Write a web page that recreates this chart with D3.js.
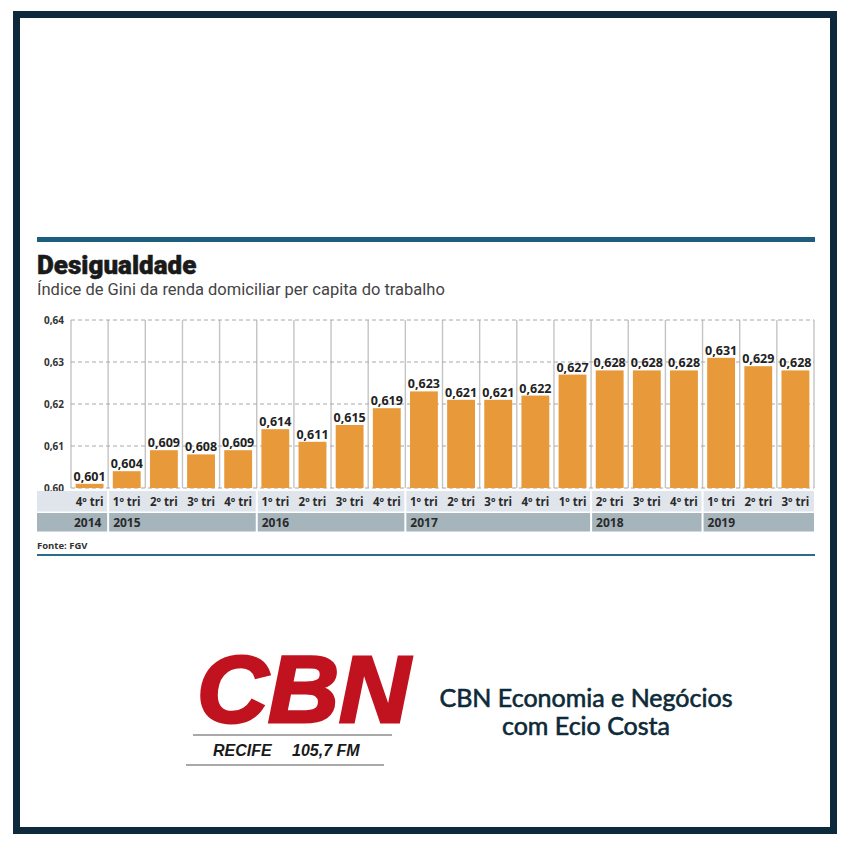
<!DOCTYPE html>
<html>
<head>
<meta charset="utf-8">
<script src="https://cdn.jsdelivr.net/npm/d3@7"></script>
<style>
html,body{margin:0;padding:0;background:#fff;}
svg{display:block;}
</style>
</head>
<body>
<svg id="c" width="850" height="850"></svg>
<script>
// ---- data ----
const quarters = ["4º tri","1º tri","2º tri","3º tri","4º tri","1º tri","2º tri","3º tri","4º tri","1º tri","2º tri","3º tri","4º tri","1º tri","2º tri","3º tri","4º tri","1º tri","2º tri","3º tri"];
const values = [0.601,0.604,0.609,0.608,0.609,0.614,0.611,0.615,0.619,0.623,0.621,0.621,0.622,0.627,0.628,0.628,0.628,0.631,0.629,0.628];
const years = ["2014","2015","2016","2017","2018","2019"];
const yearStart = [0,1,5,9,14,17];
const yearEnd = [0,4,8,13,16,19];
const yTicks = [0.60,0.61,0.62,0.63,0.64];

const svg = d3.select("#c");
const ORANGE = "#e8993a";
const fmt = v => d3.format(".3f")(v).replace(".", ",");
const fmtT = v => d3.format(".2f")(v).replace(".", ",");

// frame
svg.append("rect").attr("x",16.5).attr("y",14.5).attr("width",817).attr("height",816)
  .attr("fill","none").attr("stroke","#0c2a3b").attr("stroke-width",7);

// top rule
svg.append("rect").attr("x",37).attr("y",237).attr("width",778).attr("height",5).attr("fill","#1e5d7d");

// title
svg.append("text").attr("x",37).attr("y",274).text("Desigualdade")
  .attr("font-family","Roboto, 'Liberation Sans', sans-serif").attr("font-weight",900)
  .attr("font-size",26).attr("fill","#1a1a1a").attr("stroke","#1a1a1a").attr("stroke-width",0.5);
svg.append("text").attr("x",37).attr("y",295).text("Índice de Gini da renda domiciliar per capita do trabalho")
  .attr("font-family","Roboto, 'Liberation Sans', sans-serif").attr("font-size",16.5).attr("fill","#444");

// scales
const left = 71, right = 814;
const x = d3.scaleBand().domain(d3.range(values.length)).range([left,right]).padding(0);
const step = x.step();
const y = d3.scaleLinear().domain([0.60,0.64]).range([488,320]);

// vertical column lines
const g = svg.append("g");
g.selectAll("line.v").data(d3.range(values.length+1)).join("line")
  .attr("x1",i=>i<values.length?x(i):right).attr("x2",i=>i<values.length?x(i):right)
  .attr("y1",y(0.64)).attr("y2",y(0.60))
  .attr("stroke","#c4c4c4").attr("stroke-width",1.4);

// horizontal dashed grid
g.selectAll("line.h").data(yTicks).join("line")
  .attr("x1",left).attr("x2",right).attr("y1",d=>y(d)).attr("y2",d=>y(d))
  .attr("stroke","#a8a8a8").attr("stroke-width",1).attr("stroke-dasharray","4,3");

// y axis
const yAxis = d3.axisLeft(y).tickValues(yTicks).tickFormat(fmtT).tickSize(0).tickPadding(7);
const ya = svg.append("g").attr("transform",`translate(${left},0)`).call(yAxis);
ya.select(".domain").remove();
ya.selectAll("text").attr("font-family","'Open Sans', sans-serif").attr("font-weight",700)
  .attr("font-size",10).attr("fill","#333");

// bars
const inset = step*0.125;
svg.selectAll("rect.bar").data(values).join("rect")
  .attr("x",(d,i)=>x(i)+inset).attr("width",step-2*inset)
  .attr("y",d=>y(d)).attr("height",d=>y(0.60)-y(d)).attr("fill",ORANGE);

// value labels
svg.selectAll("text.val").data(values).join("text")
  .attr("x",(d,i)=>x(i)+step/2).attr("y",d=>y(d)-3)
  .attr("text-anchor","middle").text(fmt)
  .attr("font-family","'Open Sans', sans-serif").attr("font-weight",700)
  .attr("font-size",12.5).attr("fill","#222");

// quarter and year bands
const bandL = i => (i===0 ? 37 : x(yearStart[i])+1);
const bandR = i => (yearEnd[i]===values.length-1 ? right : x(yearEnd[i])+step-1);
svg.selectAll("rect.qb").data(years).join("rect")
  .attr("x",(d,i)=>bandL(i)).attr("width",(d,i)=>bandR(i)-bandL(i))
  .attr("y",491).attr("height",20.5).attr("fill","#dfe5ea");
svg.selectAll("rect.yb").data(years).join("rect")
  .attr("x",(d,i)=>bandL(i)).attr("width",(d,i)=>bandR(i)-bandL(i))
  .attr("y",513).attr("height",18.5).attr("fill","#a6b4bc");

svg.selectAll("text.q").data(quarters).join("text")
  .attr("x",(d,i)=>x(i)+step/2).attr("y",506).attr("text-anchor","middle").text(d=>d)
  .attr("font-family","'Open Sans', sans-serif").attr("font-weight",700)
  .attr("font-size",11.5).attr("fill","#2a2a2a");
svg.selectAll("text.yr").data(years).join("text")
  .attr("x",(d,i)=>x(yearStart[i])+(i===0?3:5)).attr("y",526.5).text(d=>d)
  .attr("font-family","'Open Sans', sans-serif").attr("font-weight",700)
  .attr("font-size",12).attr("fill","#2a2a2a");

// source
svg.append("text").attr("x",37).attr("y",549).text("Fonte: FGV")
  .attr("font-family","'Open Sans', sans-serif").attr("font-weight",700)
  .attr("font-size",9.5).attr("fill","#333");
svg.append("rect").attr("x",37).attr("y",554).attr("width",778).attr("height",2).attr("fill","#2a6d8b");

// logo
svg.append("text").attr("x",197).attr("y",722).text("CBN")
  .attr("font-family","'Liberation Sans', Arial, sans-serif").attr("font-weight",700).attr("font-style","italic")
  .attr("font-size",95).attr("fill","#c1121f").attr("stroke","#c1121f").attr("stroke-width",3)
  .attr("textLength",213).attr("lengthAdjust","spacingAndGlyphs");
svg.append("line").attr("x1",193).attr("x2",392).attr("y1",735).attr("y2",735).attr("stroke","#555").attr("stroke-width",1.2);
svg.append("line").attr("x1",186).attr("x2",384).attr("y1",765).attr("y2",765).attr("stroke","#555").attr("stroke-width",1.2);
svg.append("text").attr("x",213).attr("y",755.5).text("RECIFE")
  .attr("font-family","'Liberation Sans', Arial, sans-serif").attr("font-weight",700).attr("font-style","italic")
  .attr("font-size",16).attr("fill","#1a1a1a");
svg.append("text").attr("x",292).attr("y",755.5).text("105,7 FM")
  .attr("font-family","'Liberation Sans', Arial, sans-serif").attr("font-weight",700).attr("font-style","italic")
  .attr("font-size",16).attr("fill","#1a1a1a");

svg.append("text").attr("x",586).attr("y",707).attr("text-anchor","middle").text("CBN Economia e Negócios")
  .attr("font-family","Lato, sans-serif").attr("font-size",25).attr("fill","#0d2a38")
  .attr("stroke","#0d2a38").attr("stroke-width",0.6);
svg.append("text").attr("x",586).attr("y",735).attr("text-anchor","middle").text("com Ecio Costa")
  .attr("font-family","Lato, sans-serif").attr("font-size",25).attr("fill","#0d2a38")
  .attr("stroke","#0d2a38").attr("stroke-width",0.6);
</script>
</body>
</html>
